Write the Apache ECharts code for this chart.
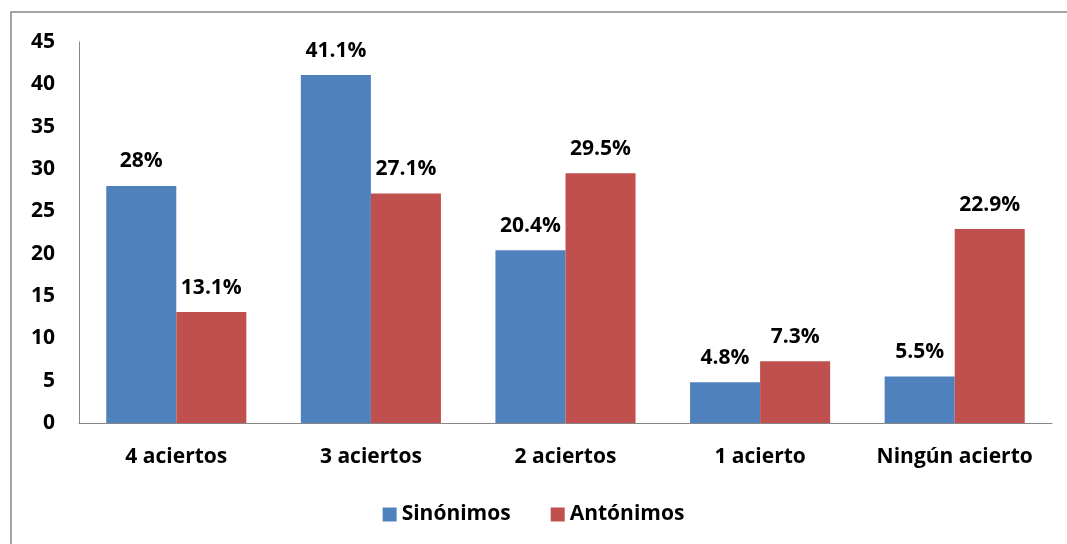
<!DOCTYPE html>
<html>
<head>
<meta charset="utf-8">
<script src="https://cdn.jsdelivr.net/npm/echarts@6/dist/echarts.min.js"></script>
<style>
  html, body { margin: 0; padding: 0; background: #fff; }
  #chart-container { width: 1067px; height: 544px; }
</style>
</head>
<body>
<div id="chart-container"></div>
<script>
var dom = document.getElementById('chart-container');
var myChart = echarts.init(dom, null, { renderer: 'canvas' });

var categories = ['4 aciertos', '3 aciertos', '2 aciertos', '1 acierto', 'Ningún acierto'];
var sinonimos = [28, 41.1, 20.4, 4.8, 5.5];
var antonimos = [13.1, 27.1, 29.5, 7.3, 22.9];

var font = '"Open Sans", Lato, sans-serif';

var labelStyle = {
    show: true,
    position: 'top',
    distance: 14,
    fontFamily: font,
    fontWeight: 'bold',
    fontSize: 21,
    color: '#000',
    formatter: function (p) { return p.value + '%'; }
};

var option = {
    animation: false,
    graphic: [{
        type: 'rect',
        shape: { x: 11, y: 12, width: 1080, height: 560 },
        style: { fill: 'none', stroke: '#868686', lineWidth: 1.5 },
        silent: true
    }],
    grid: { left: 79, right: 15, top: 42, bottom: 121 },
    legend: {
        bottom: 14,
        left: 'center',
        itemWidth: 14,
        itemHeight: 14,
        itemGap: 40,
        icon: 'rect',
        textStyle: { fontFamily: font, fontWeight: 'bold', fontSize: 21, color: '#000' },
        data: ['Sinónimos', 'Antónimos']
    },
    xAxis: {
        type: 'category',
        data: categories,
        axisLine: { lineStyle: { color: '#868686', width: 1 } },
        axisTick: { show: false },
        axisLabel: { interval: 0, fontFamily: font, fontWeight: 'bold', fontSize: 21, color: '#000', margin: 24 }
    },
    yAxis: {
        type: 'value',
        min: 0,
        max: 45,
        interval: 5,
        axisLine: { show: true, lineStyle: { color: '#868686', width: 1 } },
        axisTick: { show: false },
        splitLine: { show: false },
        axisLabel: { fontFamily: font, fontWeight: 'bold', fontSize: 21, color: '#000', margin: 24 }
    },
    series: [
        {
            name: 'Sinónimos',
            type: 'bar',
            data: sinonimos,
            barGap: '0%',
            barCategoryGap: '28%',
            itemStyle: { color: '#4F81BD' },
            label: labelStyle
        },
        {
            name: 'Antónimos',
            type: 'bar',
            data: antonimos,
            itemStyle: { color: '#C0504D' },
            label: labelStyle
        }
    ]
};

myChart.setOption(option);
window.addEventListener('resize', myChart.resize);
</script>
</body>
</html>
